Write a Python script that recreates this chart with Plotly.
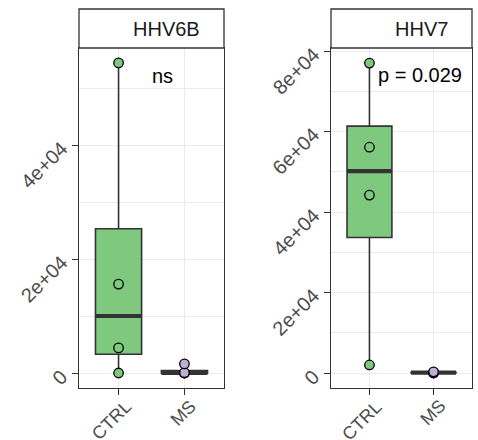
import numpy as np
import plotly.graph_objects as go

# Viral load per group, one panel per virus
groups = ["CTRL", "MS"]
hhv6b_ctrl = [0, 4400, 15600, 54400]
hhv6b_ms = [0, 0, 50, 1600]
hhv7_ctrl = [2000, 44200, 56100, 77000]
hhv7_ms = [0, 50, 100, 300]

panel_titles = ["HHV6B", "HHV7"]
panel_tests = ["ns", "p = 0.029"]

left_ticks = [0, 20000, 40000]
left_ticktext = ["0", "2e+04", "4e+04"]
left_minor = [10000, 30000, 50000]
right_ticks = [0, 20000, 40000, 60000, 80000]
right_ticktext = ["0", "2e+04", "4e+04", "6e+04", "8e+04"]
right_minor = [10000, 30000, 50000, 70000]

fill = {"CTRL": "#7FC97F", "MS": "#BEAED4"}
W, H = 478, 440
FONT = "Liberation Sans"
EDGE = "#333333"
TICK_GREY = "#4D4D4D"
BOX_W = 0.7


def box_stats(vals):
    """Tukey box statistics (quantile type 7, whiskers within 1.5 IQR)."""
    v = np.asarray(vals, dtype=float)
    q1, med, q3 = np.percentile(v, [25, 50, 75])
    iqr = q3 - q1
    lo = v[v >= q1 - 1.5 * iqr].min()
    hi = v[v <= q3 + 1.5 * iqr].max()
    return q1, med, q3, lo, hi


fig = go.Figure()

panels = [
    ("x", "y", {"CTRL": hhv6b_ctrl, "MS": hhv6b_ms}),
    ("x2", "y2", {"CTRL": hhv7_ctrl, "MS": hhv7_ms}),
]

for xa, ya, data in panels:
    for i, g in enumerate(groups, start=1):
        vals = data[g]
        q1, med, q3, lo, hi = box_stats(vals)
        fig.add_trace(go.Box(
            x=[i], q1=[q1], median=[med], q3=[q3],
            lowerfence=[lo], upperfence=[hi],
            xaxis=xa, yaxis=ya, boxpoints=False,
            fillcolor=fill[g], line=dict(color=EDGE, width=1.6),
            whiskerwidth=0, width=BOX_W, hoverinfo="skip",
        ))
        fig.add_trace(go.Scatter(
            x=[i - BOX_W / 2, i + BOX_W / 2], y=[med, med],
            xaxis=xa, yaxis=ya, mode="lines",
            line=dict(color=EDGE, width=4.2), hoverinfo="skip",
        ))
        fig.add_trace(go.Scatter(
            x=[i] * len(vals), y=vals, xaxis=xa, yaxis=ya, mode="markers",
            marker=dict(size=9.5, color=fill[g], line=dict(color="black", width=1.3)),
            hoverinfo="skip",
        ))

# Panel geometry in pixels
left_px = (79, 224)
right_px = (331, 472)
top_px, bottom_px, strip_top_px = 48, 388, 9
ydom = [1 - bottom_px / H, 1 - top_px / H]

axis_common = dict(
    showline=True, mirror=True, linecolor=EDGE, linewidth=1.3,
    ticks="outside", ticklen=6, tickwidth=1.4, tickcolor=EDGE,
    showticklabels=False, automargin=False,
    showgrid=True, gridcolor="#EBEBEB", gridwidth=1.3, zeroline=False,
)

fig.update_layout(
    xaxis=dict(domain=[left_px[0] / W, left_px[1] / W], range=[0.4, 2.6],
               tickvals=[1, 2], anchor="y", **axis_common),
    yaxis=dict(domain=ydom, range=[-2632, 57018], tickvals=left_ticks, anchor="x",
               minor=dict(tickvals=left_minor, showgrid=True, gridcolor="#EBEBEB",
                          gridwidth=0.7, ticks=""),
               **axis_common),
    xaxis2=dict(domain=[right_px[0] / W, right_px[1] / W], range=[0.4, 2.6],
                tickvals=[1, 2], anchor="y2", **axis_common),
    yaxis2=dict(domain=ydom, range=[-3727, 80745], tickvals=right_ticks, anchor="x2",
                minor=dict(tickvals=right_minor, showgrid=True, gridcolor="#EBEBEB",
                           gridwidth=0.7, ticks=""),
                **axis_common),
    width=W, height=H, margin=dict(l=0, r=0, t=0, b=0),
    plot_bgcolor="white", paper_bgcolor="white", showlegend=False,
)

y_tick_font = dict(family=FONT, size=20, color=TICK_GREY)
x_tick_font = dict(family=FONT, size=18, color=TICK_GREY)

# Rotated tick labels (45 degrees), right end anchored next to each tick
for (px0, _), ya, xa, vals, texts in [
    (left_px, "y", "x", left_ticks, left_ticktext),
    (right_px, "y2", "x2", right_ticks, right_ticktext),
]:
    for v, t in zip(vals, texts):
        fig.add_annotation(xref="paper", yref=ya, x=(px0 - 6) / W, y=v, text=t,
                           textangle=-45, showarrow=False, xanchor="right",
                           yanchor="top", yshift=9, borderpad=0, font=y_tick_font)
    for i, g in enumerate(groups, start=1):
        fig.add_annotation(xref=xa, yref="paper", x=i, y=1 - 396.7 / H, text=g,
                           textangle=-45, showarrow=False, xanchor="right",
                           yanchor="top", xshift=15.8, borderpad=0, height=15,
                           font=x_tick_font)

# Facet strips with titles
for (x0, x1), title in zip([left_px, right_px], panel_titles):
    fig.add_shape(type="rect", xref="paper", yref="paper",
                  x0=x0 / W, x1=x1 / W, y0=1 - top_px / H, y1=1 - strip_top_px / H,
                  line=dict(color=EDGE, width=1.3), fillcolor="white")
    fig.add_annotation(xref="paper", yref="paper", x=(x1 - 22) / W,
                       y=1 - (top_px + strip_top_px) / 2 / H, text=title,
                       showarrow=False, xanchor="right", yanchor="middle",
                       font=dict(family=FONT, size=20, color="#1A1A1A"))

# Group comparison labels
fig.add_annotation(xref="x", yref="y", x=1.67, y=52100, text=panel_tests[0],
                   showarrow=False, xanchor="center", yanchor="middle",
                   font=dict(family=FONT, size=20, color="black"))
fig.add_annotation(xref="x2", yref="y2", x=1.1, y=74000, text=panel_tests[1],
                   showarrow=False, xanchor="left", yanchor="middle",
                   font=dict(family=FONT, size=20, color="black"))

fig.write_html("out.html")
